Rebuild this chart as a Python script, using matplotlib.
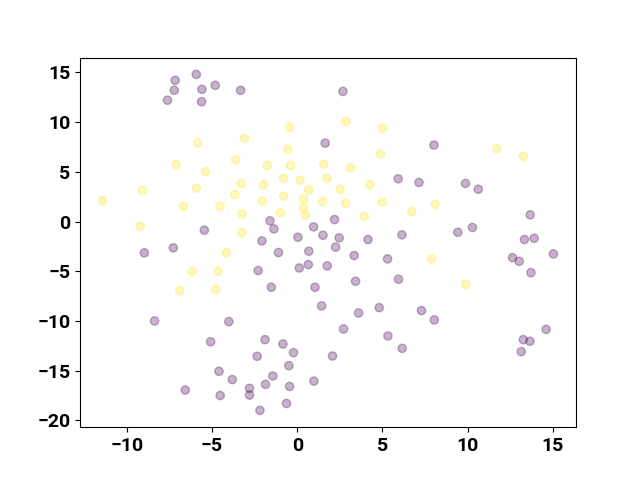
import numpy as np
import matplotlib
matplotlib.use("Agg")
import matplotlib.pyplot as plt

plt.rcParams['font.family'] = ['Roboto', 'DejaVu Sans']

# class 0 (purple) points
x0 = [-7.16, -5.92, -7.21, -5.59, -4.81, -3.32, -7.61, -5.61, -5.45,
      2.68, 1.64, 5.92, 7.14, -1.60, -1.37, 0.96, 2.19, 1.51, 2.46, 0.04, -2.07, 4.15, 6.14,
      8.02, 9.87, 10.62, 13.67, 9.42, 10.28, 13.33, 13.90,
      -8.97, -7.27, -8.37, -4.01, -5.08, -4.59, -3.81, -6.57, -4.52,
      -1.10, 0.68, 2.25, 3.34, 5.30, -2.29, 0.12, 0.65, 1.76, 5.94, -1.52, 1.04, 3.42,
      1.43, 3.60, 4.81, 2.72, 5.32, 6.16, -1.89, -0.84, -0.22, -2.35, 2.07, -0.49,
      -1.43, -1.86, -0.45, 0.98, -2.80, -2.80, -0.63, -2.19,
      12.63, 13.02, 15.03, 13.71, 7.29, 8.04, 14.60, 13.26, 13.65, 13.14]
y0 = [14.2, 14.8, 13.2, 13.3, 13.7, 13.2, 12.2, 12.05, -0.87,
      13.09, 7.89, 4.30, 3.93, 0.07, -0.74, -0.54, 0.20, -1.38, -1.64, -1.58, -1.95, -1.81, -1.34,
      7.69, 3.83, 3.25, 0.67, -1.08, -0.60, -1.81, -1.68,
      -3.15, -2.65, -10.0, -10.07, -12.1, -15.07, -15.9, -16.95, -17.5,
      -3.12, -2.99, -2.58, -3.42, -3.76, -4.93, -4.67, -4.33, -4.46, -5.81, -6.61, -6.61, -6.01,
      -8.49, -9.20, -8.66, -10.81, -11.51, -12.76, -11.88, -12.32, -13.19, -13.56, -13.53, -14.50,
      -15.54, -16.38, -16.59, -16.05, -16.78, -17.46, -18.3, -19.0,
      -3.63, -4.0, -3.26, -5.14, -8.96, -9.90, -10.85, -11.88, -12.05, -13.09]

# class 1 (yellow) points
x1 = [-5.83, -3.09, -7.10, -3.62, -5.38, -9.09, -5.91, -3.30, -3.66, -11.42, -6.69, -4.53,
      -3.24, -9.21, -3.24,
      2.86, -0.45, 5.01, -0.55, 4.89, -1.76, -0.39, 1.55, 3.13, -0.80, 0.16, 1.74, -1.97,
      0.67, 2.52, 4.26, -0.80, 0.39, -2.05, 1.49, 2.84, 4.99, 0.35, -0.98, 0.49, 3.93, 6.71,
      11.71, 13.26, 8.09,
      -4.16, -6.16, -4.65, -6.90, -4.77, 7.88, 9.89]
y1 = [7.92, 8.36, 5.71, 6.24, 5.04, 3.15, 3.36, 3.83, 2.72, 2.08, 1.51, 1.54,
      0.77, -0.47, -1.11,
      10.07, 9.50, 9.37, 7.25, 6.78, 5.64, 5.64, 5.74, 5.41, 4.33, 4.16, 4.33, 3.70,
      3.19, 3.25, 3.73, 2.55, 2.28, 2.05, 2.01, 1.85, 1.95, 1.34, 0.87, 0.60, 0.50, 1.01,
      7.32, 6.55, 1.71,
      -3.15, -5.04, -5.0, -6.95, -6.81, -3.76, -6.31]

x = np.array(x0 + x1)
y = np.array(y0 + y1)
labels = np.array([0] * len(x0) + [1] * len(x1))

fig, ax = plt.subplots(figsize=(6.4, 4.8), dpi=100)
ax.scatter(x, y, c=labels, cmap='viridis', alpha=0.3)
for lab in ax.get_xticklabels() + ax.get_yticklabels():
    lab.set_fontweight('bold')
ax.tick_params(labelsize=14)
plt.savefig("out.png")
